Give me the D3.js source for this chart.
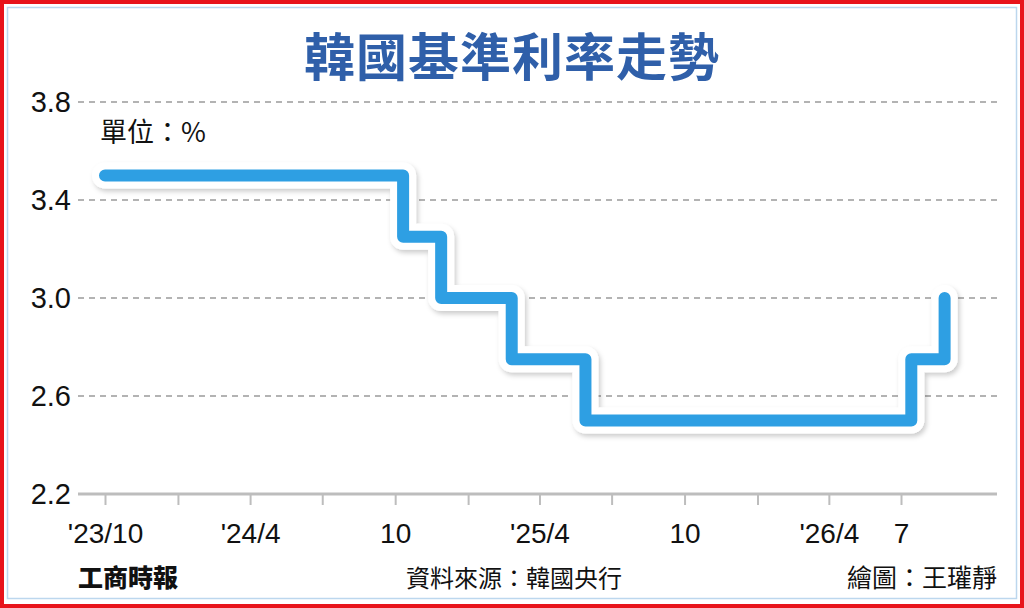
<!DOCTYPE html>
<html><head><meta charset="utf-8">
<script src="https://cdn.jsdelivr.net/npm/d3@7/dist/d3.min.js"></script>
<style>
html,body{margin:0;padding:0;background:#fff;}
svg{display:block;}
</style></head>
<body>
<svg id="chart" width="1024" height="608"></svg>
<script>
// ---- data ----
const titleText = "韓國基準利率走勢";
const unitText = "單位：%";
const sourceText = "資料來源：韓國央行";
const creditText = "繪圖：王瓘靜";
const logoText = "工商時報";
const rateDates = ["2023-10-01","2024-10-11","2024-11-28","2025-02-25","2025-05-29","2026-07-14","2026-08-25"];
const rateValues = [3.5, 3.25, 3.0, 2.75, 2.5, 2.75, 3.0];
const yTicks = [2.2, 2.6, 3.0, 3.4, 3.8];
const xTickDates = ["2023-10-01","2024-01-01","2024-04-01","2024-07-01","2024-10-01","2025-01-01","2025-04-01","2025-07-01","2025-10-01","2026-01-01","2026-04-01","2026-07-01"];
const xTickLabels = ["'23/10","","'24/4","","10","","'25/4","","10","","'26/4","7"];

const parse = d3.utcParse("%Y-%m-%d");
const svg = d3.select("#chart");

// borders
svg.append("rect").attr("x",2).attr("y",2).attr("width",1020).attr("height",604)
  .attr("fill","none").attr("stroke","#e8141b").attr("stroke-width",4);
svg.append("rect").attr("x",7.5).attr("y",7.5).attr("width",1009).attr("height",591)
  .attr("fill","none").attr("stroke","#bcd7ee").attr("stroke-width",1.5);

// filter
const defs = svg.append("defs");
const f = defs.append("filter").attr("id","sh").attr("x","-5%").attr("y","-20%").attr("width","110%").attr("height","140%");
f.append("feDropShadow").attr("dx",2).attr("dy",3).attr("stdDeviation",2.5).attr("flood-color","#000").attr("flood-opacity",0.2);

// title
svg.append("text").attr("x",512).attr("y",54).attr("text-anchor","middle")
  .attr("dominant-baseline","central")
  .attr("font-family","'Noto Sans CJK TC','Noto Sans CJK SC',sans-serif")
  .attr("font-weight",700).attr("font-size",51).attr("letter-spacing",1)
  .attr("fill","#2f5fa9").text(titleText);

// scales
const x = d3.scaleUtc().domain([parse("2023-10-01"), parse("2026-07-01")]).range([105, 901]);
const y = d3.scaleLinear().domain([2.2, 3.8]).range([494, 102]);

// grid lines
svg.append("g").selectAll("line").data(yTicks.filter(v => v !== 2.2)).join("line")
  .attr("x1",78).attr("x2",999).attr("y1",d=>y(d)).attr("y2",d=>y(d))
  .attr("stroke","#9a9a9a").attr("stroke-width",1.5).attr("stroke-dasharray","6,5");

// y axis labels
const gy = svg.append("g").attr("transform","translate(78,0)")
  .call(d3.axisLeft(y).tickValues(yTicks).tickFormat(d3.format(".1f")).tickSize(0).tickPadding(7));
gy.select(".domain").remove();
gy.selectAll("text").attr("font-family","'Liberation Sans',Arial,sans-serif").attr("font-size",29).attr("fill","#111");

// x axis
const gx = svg.append("g").attr("transform","translate(0,494)")
  .call(d3.axisBottom(x).tickValues(xTickDates.map(parse)).tickSize(11).tickPadding(18)
    .tickFormat((d,i)=>xTickLabels[i]));
gx.select(".domain").attr("d","M78,0H997").attr("stroke","#bdbdbd").attr("stroke-width",3);
gx.selectAll(".tick line").attr("stroke","#bdbdbd").attr("stroke-width",2);
gx.selectAll("text").attr("font-family","'Liberation Sans',Arial,sans-serif").attr("font-size",28).attr("fill","#111");

// unit
svg.append("text").attr("x",100).attr("y",142)
  .attr("font-family","'Noto Sans CJK TC',sans-serif").attr("font-size",27).attr("fill","#111").text(unitText);

// line
const pts = rateDates.map((d,i)=>({date:parse(d), v:rateValues[i]}));
const lineGen = d3.line().x(d=>x(d.date)).y(d=>y(d.v)).curve(d3.curveStepAfter);
svg.append("path").attr("d",lineGen(pts)).attr("fill","none")
  .attr("stroke","#ffffff").attr("stroke-width",26).attr("stroke-linejoin","round").attr("stroke-linecap","round")
  .attr("filter","url(#sh)");
svg.append("path").attr("d",lineGen(pts)).attr("fill","none")
  .attr("stroke","#2e9fe3").attr("stroke-width",12).attr("stroke-linejoin","round").attr("stroke-linecap","round");

// footer
svg.append("text").attr("x",78).attr("y",587)
  .attr("font-family","'Noto Sans CJK TC',serif").attr("font-weight",900).attr("font-size",25).attr("fill","#111").text(logoText);
svg.append("text").attr("x",514).attr("y",587).attr("text-anchor","middle")
  .attr("font-family","'Noto Sans CJK TC',sans-serif").attr("font-size",24).attr("fill","#111").text(sourceText);
svg.append("text").attr("x",997).attr("y",587).attr("text-anchor","end")
  .attr("font-family","'Noto Sans CJK TC',sans-serif").attr("font-size",25).attr("fill","#111").text(creditText);
</script>
</body></html>
